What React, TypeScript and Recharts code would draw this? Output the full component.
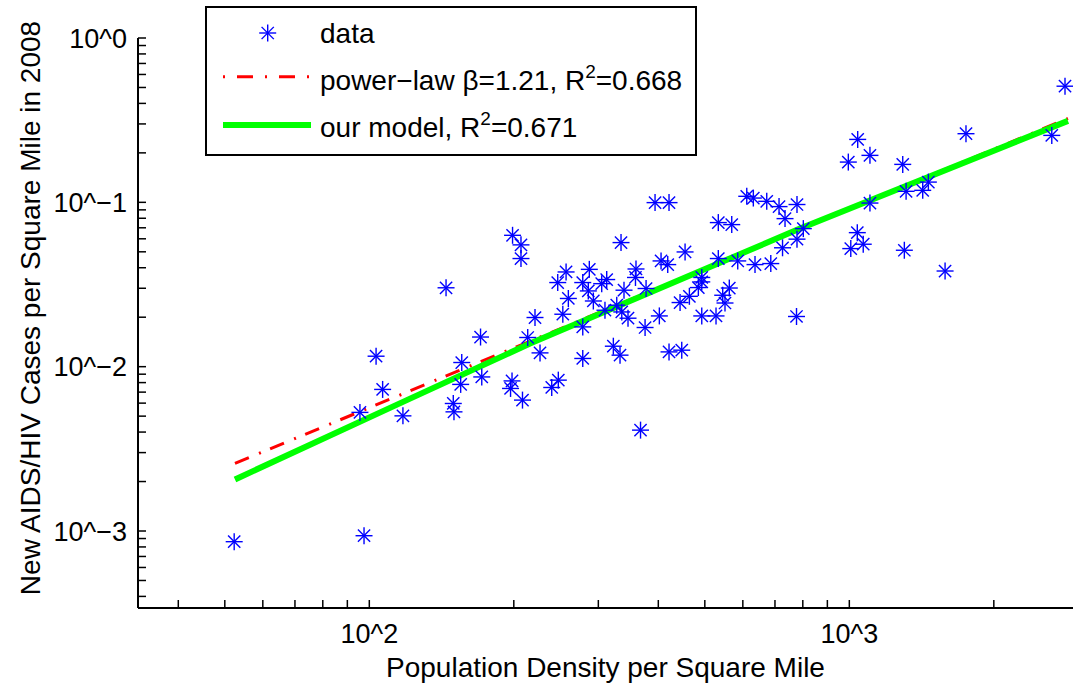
import React from 'react';
import { ScatterChart, Scatter, XAxis, YAxis, Legend, Label } from 'recharts';

// county data (density, new cases per sq mile)
const densities = [
  52.3, 97.5, 95.6, 103.3, 106.6, 117.5, 144.5, 149.6, 150.1, 155.8,
  155.0, 170.5, 171.5, 198.8, 207.0, 207.0, 198.3, 196.9, 208.5, 213.8,
  221.4, 226.8, 239.9, 247.6, 246.9, 257.0, 259.8, 253.0, 278.4, 287.3,
  285.9, 292.9, 304.9, 312.3, 278.4, 278.4, 309.7, 327.7, 335.7, 345.9,
  322.4, 332.9, 334.5, 339.3, 359.4, 358.5, 367.3, 377.2, 375.4, 393.8,
  421.1, 402.0, 405.3, 418.5, 421.1, 447.6, 444.0, 454.8, 464.3, 484.7,
  492.7, 492.7, 492.7, 527.6, 533.4, 568.9, 533.4, 544.8, 550.8, 562.3,
  585.5, 611.4, 631.0, 636.1, 672.9, 686.1, 713.8, 734.6, 725.9, 778.0,
  778.0, 776.2, 802.0, 995.2, 1041, 1104, 1104, 1039, 1069, 1007,
  1292, 1313, 1422, 1461, 1302, 1583, 1750, 2641, 2814,
];
const cases = [
  0.000861, 0.000936, 0.00527, 0.01158, 0.00727, 0.00502, 0.0302, 0.00597, 0.00531, 0.0106,
  0.0078, 0.01515, 0.00866, 0.063, 0.0551, 0.0455, 0.00819, 0.00737, 0.00626, 0.01505,
  0.01991, 0.01213, 0.00747, 0.00828, 0.0325, 0.0377, 0.026, 0.02085, 0.0325, 0.0391,
  0.0289, 0.0251, 0.032, 0.0339, 0.01746, 0.01122, 0.02205, 0.02365, 0.02153, 0.01972,
  0.01332, 0.01175, 0.0569, 0.0292, 0.0393, 0.0349, 0.00411, 0.0299, 0.01731, 0.0996,
  0.0996, 0.02036, 0.044, 0.0418, 0.0123, 0.0126, 0.02456, 0.0499, 0.0268, 0.0303,
  0.0349, 0.0328, 0.02036, 0.02036, 0.0753, 0.0732, 0.0455, 0.0272, 0.0244, 0.0301,
  0.044, 0.1088, 0.1062, 0.0418, 0.1014, 0.0424, 0.0942, 0.0796, 0.0529, 0.097,
  0.0597, 0.0202, 0.0692, 0.1758, 0.2415, 0.1931, 0.099, 0.0654, 0.0556, 0.0523,
  0.1702, 0.1167, 0.1183, 0.1328, 0.0511, 0.0382, 0.2616, 0.2555, 0.509,
];

// fitted curves
const powerLawX = [52.5, 2854];
const powerLawY = [0.00258, 0.324];
const modelX = [52.5, 119.7, 216.2, 789.5, 2854];
const modelY = [0.00206, 0.00626, 0.01384, 0.0692, 0.313];

// axes
const xDomain = [32.97, 2924];
const yDomain = [0.00034, 1];
const xTicks = [40, 50, 60, 70, 80, 90, 100, 200, 300, 400, 500, 600, 700, 800, 900, 1000, 2000];
const yTicks = [
  0.0004, 0.0005, 0.0006, 0.0007, 0.0008, 0.0009,
  0.001, 0.002, 0.003, 0.004, 0.005, 0.006, 0.007, 0.008, 0.009,
  0.01, 0.02, 0.03, 0.04, 0.05, 0.06, 0.07, 0.08, 0.09,
  0.1, 0.2, 0.3, 0.4, 0.5, 0.6, 0.7, 0.8, 0.9, 1,
];
const xMajor = [100, 1000];
const xMajorLabels = ['10^2', '10^3'];
const yMajor = [0.001, 0.01, 0.1, 1];
const yMajorLabels = ['10^\u22123', '10^\u22122', '10^\u22121', '10^0'];

const FONT = '"Liberation Sans", Arial, Helvetica, sans-serif';
const TICK_LEN = 8;

const dataPts = densities.map((x, i) => ({ x, y: cases[i] }));
const powerPts = powerLawX.map((x, i) => ({ x, y: powerLawY[i] }));
const modelPts = modelX.map((x, i) => ({ x, y: modelY[i] }));

const labelFor = (v: number, major: number[], labels: string[]) => {
  const i = major.findIndex((m) => Math.abs(m - v) / m < 1e-6);
  return i >= 0 ? labels[i] : null;
};

const BottomTick = (props: any) => {
  const { x, y, payload } = props;
  const lab = labelFor(payload.value, xMajor, xMajorLabels);
  return (
    <g>
      <line x1={x} x2={x} y1={y} y2={y - TICK_LEN} stroke="#000" strokeWidth={1.5} />
      {lab && (
        <text x={x} y={y + 35} textAnchor="middle" fontSize={27} fontFamily={FONT} fill="#000">
          {lab}
        </text>
      )}
    </g>
  );
};

const TopTick = (props: any) => {
  const { x, y } = props;
  return <line x1={x} x2={x} y1={y} y2={y + TICK_LEN} stroke="#000" strokeWidth={1.5} />;
};

const LeftTick = (props: any) => {
  const { x, y, payload } = props;
  const lab = labelFor(payload.value, yMajor, yMajorLabels);
  return (
    <g>
      <line x1={x} x2={x + TICK_LEN} y1={y} y2={y} stroke="#000" strokeWidth={1.5} />
      {lab && (
        <text x={x - 11} y={y + 9.5} textAnchor="end" fontSize={27} fontFamily={FONT} fill="#000">
          {lab}
        </text>
      )}
    </g>
  );
};

const RightTick = (props: any) => {
  const { x, y } = props;
  return <line x1={x} x2={x - TICK_LEN} y1={y} y2={y} stroke="#000" strokeWidth={1.5} />;
};

const star = (cx: number, cy: number, key?: string) => {
  const r = 8.5;
  const d = r * 0.72;
  return (
    <g key={key} stroke="#0000ff" strokeWidth={1.4}>
      <line x1={cx - r} x2={cx + r} y1={cy} y2={cy} />
      <line x1={cx} x2={cx} y1={cy - r} y2={cy + r} />
      <line x1={cx - d} x2={cx + d} y1={cy - d} y2={cy + d} />
      <line x1={cx - d} x2={cx + d} y1={cy + d} y2={cy - d} />
    </g>
  );
};

const StarShape = (props: any) => star(props.cx, props.cy);
const NoShape = () => <g />;

const LegendBox = () => (
  <svg width={492} height={150} style={{ display: 'block' }}>
    <rect x={1} y={1} width={490} height={148} fill="#fff" stroke="#000" strokeWidth={2} />
    {star(62.7, 27)}
    <text x={115} y={37} fontSize={28} fontFamily={FONT} fill="#000">data</text>
    <line x1={18} x2={106} y1={70.7} y2={70.7} stroke="#ff0000" strokeWidth={3} strokeDasharray="2 12 16 12" />
    <text x={115} y={84} fontSize={28} fontFamily={FONT} fill="#000">
      power{'\u2212'}law {'\u03b2'}=1.21, R
      <tspan fontSize={19} dy={-12}>2</tspan>
      <tspan dy={12}>=0.668</tspan>
    </text>
    <line x1={18} x2={106} y1={119} y2={119} stroke="#00ff00" strokeWidth={6} />
    <text x={115} y={131} fontSize={28} fontFamily={FONT} fill="#000">
      our model, R
      <tspan fontSize={19} dy={-12}>2</tspan>
      <tspan dy={12}>=0.671</tspan>
    </text>
  </svg>
);

export default function App() {
  return (
    <div style={{ position: 'absolute', left: 0, top: 0, width: 1073, height: 692, background: '#fff' }}>
      <ScatterChart width={1073} height={692} margin={{ top: 38, right: 0, bottom: 0, left: 0 }}>
        <XAxis
          xAxisId="b"
          dataKey="x"
          type="number"
          scale="log"
          domain={xDomain}
          allowDataOverflow
          ticks={xTicks}
          interval={0}
          tick={<BottomTick />}
          tickLine={false}
          tickSize={0}
          tickMargin={0}
          height={84}
          axisLine={{ stroke: '#000', strokeWidth: 2 }}
        >
          <Label
            content={() => (
              <text x={605.5} y={677} textAnchor="middle" fontSize={28} fontFamily={FONT} fill="#000">
                Population Density per Square Mile
              </text>
            )}
          />
        </XAxis>
        <XAxis
          xAxisId="t"
          orientation="top"
          dataKey="x"
          type="number"
          scale="log"
          domain={xDomain}
          allowDataOverflow
          ticks={xTicks}
          interval={0}
          tick={<TopTick />}
          tickLine={false}
          tickSize={0}
          tickMargin={0}
          height={0}
          axisLine={{ stroke: '#000', strokeWidth: 2 }}
        />
        <YAxis
          yAxisId="l"
          dataKey="y"
          type="number"
          scale="log"
          domain={yDomain}
          allowDataOverflow
          ticks={yTicks}
          interval={0}
          tick={<LeftTick />}
          tickLine={false}
          tickSize={0}
          tickMargin={0}
          width={138}
          axisLine={{ stroke: '#000', strokeWidth: 2 }}
        >
          <Label
            content={() => (
              <text
                x={40}
                y={308}
                transform="rotate(-90 40 308)"
                textAnchor="middle"
                fontSize={28}
                fontFamily={FONT}
                fill="#000"
              >
                New AIDS/HIV Cases per Square Mile in 2008
              </text>
            )}
          />
        </YAxis>
        <YAxis
          yAxisId="r"
          orientation="right"
          dataKey="y"
          type="number"
          scale="log"
          domain={yDomain}
          allowDataOverflow
          ticks={yTicks}
          interval={0}
          tick={<RightTick />}
          tickLine={false}
          tickSize={0}
          tickMargin={0}
          width={0}
          axisLine={{ stroke: '#000', strokeWidth: 2 }}
        />
        <Legend
          layout="vertical"
          align="center"
          verticalAlign="middle"
          content={() => <LegendBox />}
          wrapperStyle={{ left: 205, top: 6, width: 492, height: 150 }}
        />
        <Scatter
          name="power-law"
          data={powerPts}
          xAxisId="b"
          yAxisId="l"
          shape={<NoShape />}
          line={{ stroke: '#ff0000', strokeWidth: 3, strokeDasharray: '15 11 2 10' }}
          fill="#ff0000"
          isAnimationActive={false}
        />
        <Scatter
          name="our model"
          data={modelPts}
          xAxisId="b"
          yAxisId="l"
          shape={<NoShape />}
          line={{ stroke: '#00ff00', strokeWidth: 6 }}
          fill="#00ff00"
          isAnimationActive={false}
        />
        <Scatter
          name="data"
          data={dataPts}
          xAxisId="b"
          yAxisId="l"
          shape={<StarShape />}
          fill="#0000ff"
          isAnimationActive={false}
        />
      </ScatterChart>
    </div>
  );
}
